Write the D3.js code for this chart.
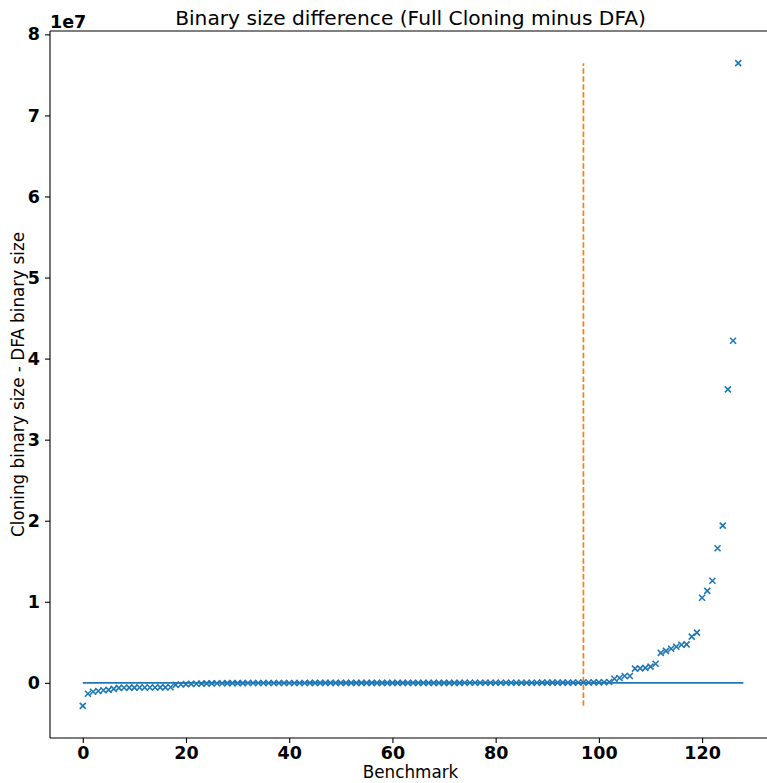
<!DOCTYPE html>
<html>
<head>
<meta charset="utf-8">
<script src="https://cdn.jsdelivr.net/npm/d3@7"></script>
<style>
  html, body { margin: 0; padding: 0; background: #fff; }
  svg { display: block; font-family: "DejaVu Sans", sans-serif; }
</style>
</head>
<body>
<svg id="chart" width="767" height="783"></svg>
<script>
// ---- Data ----
const title = "Binary size difference (Full Cloning minus DFA)";
const xLabel = "Benchmark";
const yLabel = "Cloning binary size - DFA binary size";
const xTicks = [0, 20, 40, 60, 80, 100, 120];
const yTicks = [0, 1e7, 2e7, 3e7, 4e7, 5e7, 6e7, 7e7, 8e7];
const yTickLabels = ["0", "1", "2", "3", "4", "5", "6", "7", "8"];
const yOffsetLabel = "1e7";
const splitIndex = 97;   // dashed vertical line position

const sizeDiff = [
  -2840000, -1350000, -1100000, -1000000, -920000, -860000, -740000, -620000,
  -600000, -590000, -590000, -580000, -580000, -570000, -570000, -560000,
  -560000, -550000, -250000, -200000, -160000, -130000, -110000, -90000,
  -70000, -60000, -50000, -45000, -40000, -35000, -30000, -28000,
  -26000, -25000, -24000, -22000, -20000, -19000, -18000, -17000,
  -16000, -15000, -14000, -13000, -12000, -11000, -10000, -9000,
  -8000, -8000, -7000, -6000, -6000, -5000, -5000, -4000,
  -4000, -3000, -3000, -2000, -2000, -1000, -1000, 0,
  0, 0, 1000, 1000, 2000, 2000, 3000, 3000,
  4000, 4000, 5000, 5000, 6000, 6000, 7000, 8000,
  9000, 10000, 11000, 12000, 13000, 14000, 15000, 16000,
  18000, 20000, 22000, 24000, 26000, 28000, 30000, 33000,
  36000, 40000, 45000, 50000, 60000, 80000, 100000, 500000,
  600000, 850000, 850000, 1750000, 1780000, 1850000, 2000000, 2350000,
  3700000, 3950000, 4200000, 4450000, 4700000, 4750000, 5700000, 6200000,
  10500000, 11350000, 12600000, 16600000, 19400000, 36200000, 42200000, 76450000
];
const zeroLineStart = 0;
const zeroLineEnd = 128;

// ---- Layout ----
const svg = d3.select("#chart");
const plotLeft = 50, plotRight = 771, plotTop = 31, plotBottom = 738;

const n = sizeDiff.length;
const xMin = 0, xMax = n - 1;
const xPad = (xMax - xMin) * 0.05;
const yMinV = d3.min(sizeDiff), yMaxV = d3.max(sizeDiff);
const yPad = (yMaxV - yMinV) * 0.05;

const x = d3.scaleLinear().domain([xMin - xPad, xMax + xPad]).range([plotLeft, plotRight]);
const y = d3.scaleLinear().domain([yMinV - yPad, yMaxV + yPad]).range([plotBottom, plotTop]);

const blue = "#1f77b4", orange = "#ff7f0e";

// zero line
svg.append("line")
  .attr("x1", x(zeroLineStart)).attr("x2", x(zeroLineEnd))
  .attr("y1", y(0)).attr("y2", y(0))
  .attr("stroke", blue).attr("stroke-width", 1.6);

// dashed vertical line
svg.append("line")
  .attr("x1", x(splitIndex)).attr("x2", x(splitIndex))
  .attr("y1", y(yMinV)).attr("y2", y(yMaxV))
  .attr("stroke", orange).attr("stroke-width", 1.7)
  .attr("stroke-dasharray", "5.5,2.4");

// x markers
const r = 3;
const pts = svg.append("g");
sizeDiff.forEach((v, i) => {
  const cx = x(i), cy = y(v);
  pts.append("path")
    .attr("d", `M${cx - r},${cy - r}L${cx + r},${cy + r}M${cx - r},${cy + r}L${cx + r},${cy - r}`)
    .attr("stroke", blue).attr("stroke-width", 1.6).attr("fill", "none");
});

// axes
const xAxis = svg.append("g")
  .attr("transform", `translate(0,${plotBottom})`)
  .call(d3.axisBottom(x).tickValues(xTicks).tickSize(5).tickPadding(4).tickSizeOuter(0));
const yAxis = svg.append("g")
  .attr("transform", `translate(${plotLeft},0)`)
  .call(d3.axisLeft(y).tickValues(yTicks).tickFormat((d, i) => yTickLabels[i]).tickSize(5).tickPadding(5).tickSizeOuter(0));

[xAxis, yAxis].forEach(g => {
  g.select(".domain").remove();
  g.selectAll("line").attr("stroke", "#000").attr("stroke-width", 1.1);
  g.selectAll("text").attr("fill", "#000")
    .style("font-family", "DejaVu Sans, sans-serif")
    .style("font-size", "17.5px").style("font-weight", "bold");
});

// spines
svg.append("line").attr("x1", plotLeft).attr("x2", plotLeft).attr("y1", plotTop).attr("y2", plotBottom)
  .attr("stroke", "#000").attr("stroke-width", 1.1);
svg.append("line").attr("x1", plotLeft).attr("x2", plotRight).attr("y1", plotBottom).attr("y2", plotBottom)
  .attr("stroke", "#000").attr("stroke-width", 1.1);
svg.append("line").attr("x1", plotLeft).attr("x2", plotRight).attr("y1", plotTop).attr("y2", plotTop)
  .attr("stroke", "#000").attr("stroke-width", 1.1);

// offset label
svg.append("text").attr("x", plotLeft).attr("y", 28)
  .style("font-size", "17.5px").style("font-weight", "bold").text(yOffsetLabel);

// title
svg.append("text").attr("x", (plotLeft + plotRight) / 2).attr("y", 25)
  .attr("text-anchor", "middle").style("font-size", "20.2px").text(title);

// axis labels
svg.append("text").attr("x", (plotLeft + plotRight) / 2).attr("y", 778)
  .attr("text-anchor", "middle").style("font-size", "16.8px").text(xLabel);
svg.append("text")
  .attr("transform", `translate(24,${(plotTop + plotBottom) / 2}) rotate(-90)`)
  .attr("text-anchor", "middle").style("font-size", "16.8px").text(yLabel);
</script>
</body>
</html>
